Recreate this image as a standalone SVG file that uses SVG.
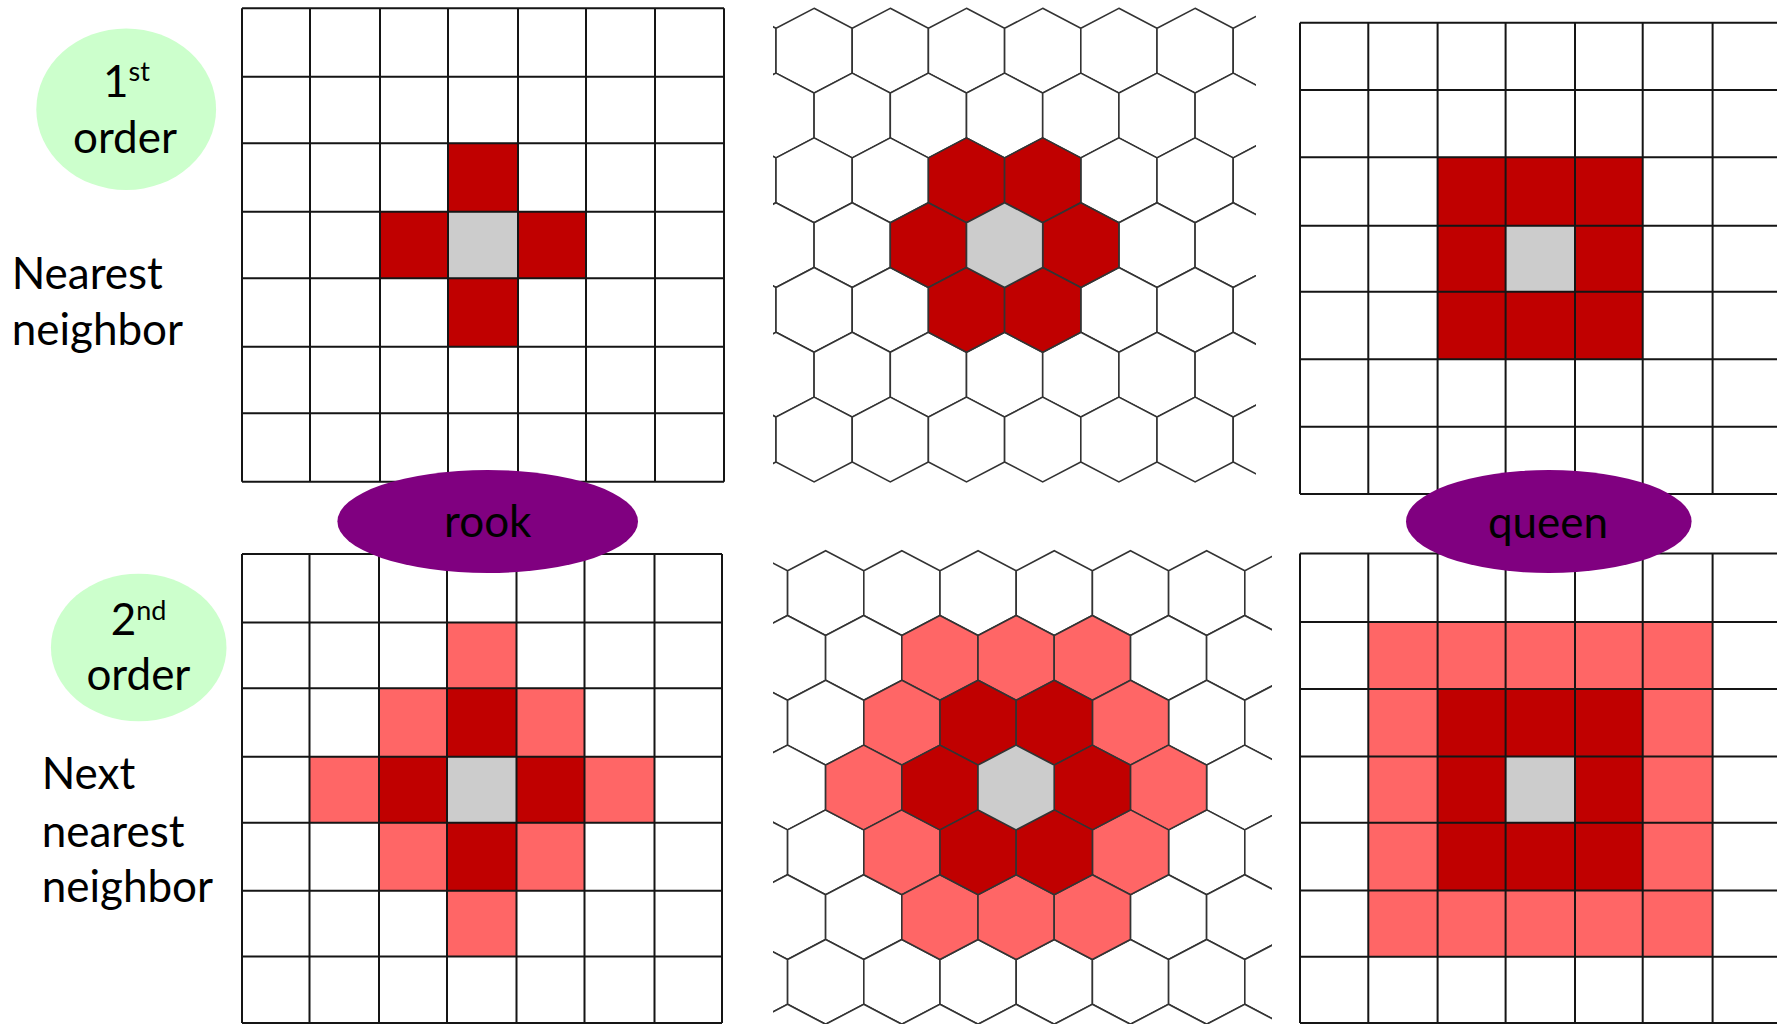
<svg xmlns="http://www.w3.org/2000/svg" xmlns:xlink="http://www.w3.org/1999/xlink" width="1777" height="1024" viewBox="0 0 1777 1024">
<style>
text{font-family:Lato,"Open Sans","Liberation Sans",sans-serif;fill:#000}
.lbl{font-size:44px}
.sup{font-size:27px}
.grid{fill:none;stroke:#151515;stroke-width:2}
.red{fill:#C00000}
.pink{fill:#FF6666}
.gray{fill:#CCCCCC}
.hx use{fill:#fff;stroke:#333;stroke-width:1.6;stroke-linejoin:miter}
.hx use.red{fill:#C00000}
.hx use.pink{fill:#FF6666}
.hx use.gray{fill:#CCCCCC}
.green{fill:#CCFFCC}
.purple{fill:#800080}
</style>
<defs>
<polygon id="h" points="0,-42.4 38.1,-22.4 38.1,22.4 0,42.4 -38.1,22.4 -38.1,-22.4"/>
<clipPath id="clipTop"><rect x="773" y="0" width="483" height="495"/></clipPath>
<clipPath id="clipBot"><rect x="773" y="540" width="499" height="484"/></clipPath>
</defs>
<rect width="1777" height="1024" fill="#fff"/>

<g id="rook-1st">
<rect class="red" x="448" y="143.3" width="70" height="68.4"/>
<rect class="red" x="380" y="211.7" width="68" height="66.6"/>
<rect class="red" x="518" y="211.7" width="68" height="66.6"/>
<rect class="red" x="448" y="278.3" width="70" height="68.4"/>
<rect class="gray" x="448" y="211.7" width="70" height="66.6"/>
<path class="grid" d="M242 8.3V481.7M310 8.3V481.7M380 8.3V481.7M448 8.3V481.7M518 8.3V481.7M586 8.3V481.7M655 8.3V481.7M724 8.3V481.7M242 8.3H724M242 76.7H724M242 143.3H724M242 211.7H724M242 278.3H724M242 346.7H724M242 413.3H724M242 481.7H724"/>
</g>

<g id="rook-2nd">
<rect class="pink" x="447" y="622.4" width="69.5" height="65.9"/>
<rect class="pink" x="379" y="688.3" width="68" height="68.4"/>
<rect class="pink" x="516.5" y="688.3" width="68" height="68.4"/>
<rect class="pink" x="309.5" y="756.7" width="69.5" height="66"/>
<rect class="pink" x="584.5" y="756.7" width="70" height="66"/>
<rect class="pink" x="379" y="822.7" width="68" height="68.1"/>
<rect class="pink" x="516.5" y="822.7" width="68" height="68.1"/>
<rect class="pink" x="447" y="890.8" width="69.5" height="65.7"/>
<rect class="red" x="447" y="688.3" width="69.5" height="68.4"/>
<rect class="red" x="379" y="756.7" width="68" height="66"/>
<rect class="red" x="516.5" y="756.7" width="68" height="66"/>
<rect class="red" x="447" y="822.7" width="69.5" height="68.1"/>
<rect class="gray" x="447" y="756.7" width="69.5" height="66"/>
<path class="grid" d="M242 554V1023M309.5 554V1023M379 554V1023M447 554V1023M516.5 554V1023M584.5 554V1023M654.5 554V1023M722 554V1023M242 554H722M242 622.4H722M242 688.3H722M242 756.7H722M242 822.7H722M242 890.8H722M242 956.5H722M242 1023H722"/>
</g>

<g id="queen-1st">
<rect class="red" x="1437.6" y="157.3" width="205.1" height="202"/>
<rect class="gray" x="1505.6" y="225.7" width="69.4" height="66"/>
<path class="grid" d="M1300 22.7V494M1368.3 22.7V494M1437.6 22.7V494M1505.6 22.7V494M1575 22.7V494M1642.7 22.7V494M1712.6 22.7V494M1300 22.7H1781M1300 90H1781M1300 157.3H1781M1300 225.7H1781M1300 291.7H1781M1300 359.3H1781M1300 426.7H1781M1300 494H1781"/>
</g>

<g id="queen-2nd">
<rect class="pink" x="1368.3" y="622" width="344.3" height="334.7"/>
<rect class="red" x="1437.6" y="689" width="205.1" height="201.6"/>
<rect class="gray" x="1505.6" y="756.5" width="69.4" height="66.2"/>
<path class="grid" d="M1300 553.5V1023M1368.3 553.5V1023M1437.6 553.5V1023M1505.6 553.5V1023M1575 553.5V1023M1642.7 553.5V1023M1712.6 553.5V1023M1300 553.5H1781M1300 622H1781M1300 689H1781M1300 756.5H1781M1300 822.7H1781M1300 890.6H1781M1300 956.7H1781M1300 1023H1781"/>
</g>

<g id="hex-1st" class="hx" clip-path="url(#clipTop)">
<use href="#h" x="737.9" y="50.7"/><use href="#h" x="814.1" y="50.7"/><use href="#h" x="890.3" y="50.7"/><use href="#h" x="966.5" y="50.7"/><use href="#h" x="1042.7" y="50.7"/><use href="#h" x="1118.9" y="50.7"/><use href="#h" x="1195.1" y="50.7"/><use href="#h" x="1271.3" y="50.7"/>
<use href="#h" x="776" y="115.5"/><use href="#h" x="852.2" y="115.5"/><use href="#h" x="928.4" y="115.5"/><use href="#h" x="1004.6" y="115.5"/><use href="#h" x="1080.8" y="115.5"/><use href="#h" x="1157" y="115.5"/><use href="#h" x="1233.2" y="115.5"/>
<use href="#h" x="737.9" y="180.3"/><use href="#h" x="814.1" y="180.3"/><use href="#h" x="890.3" y="180.3"/><use href="#h" x="1118.9" y="180.3"/><use href="#h" x="1195.1" y="180.3"/><use href="#h" x="1271.3" y="180.3"/>
<use href="#h" x="776" y="245.1"/><use href="#h" x="852.2" y="245.1"/><use href="#h" x="1157" y="245.1"/><use href="#h" x="1233.2" y="245.1"/>
<use href="#h" x="737.9" y="309.9"/><use href="#h" x="814.1" y="309.9"/><use href="#h" x="890.3" y="309.9"/><use href="#h" x="1118.9" y="309.9"/><use href="#h" x="1195.1" y="309.9"/><use href="#h" x="1271.3" y="309.9"/>
<use href="#h" x="776" y="374.7"/><use href="#h" x="852.2" y="374.7"/><use href="#h" x="928.4" y="374.7"/><use href="#h" x="1004.6" y="374.7"/><use href="#h" x="1080.8" y="374.7"/><use href="#h" x="1157" y="374.7"/><use href="#h" x="1233.2" y="374.7"/>
<use href="#h" x="737.9" y="439.5"/><use href="#h" x="814.1" y="439.5"/><use href="#h" x="890.3" y="439.5"/><use href="#h" x="966.5" y="439.5"/><use href="#h" x="1042.7" y="439.5"/><use href="#h" x="1118.9" y="439.5"/><use href="#h" x="1195.1" y="439.5"/><use href="#h" x="1271.3" y="439.5"/>
<use class="red" href="#h" x="966.5" y="180.3"/><use class="red" href="#h" x="1042.7" y="180.3"/>
<use class="red" href="#h" x="928.4" y="245.1"/><use class="red" href="#h" x="1080.8" y="245.1"/>
<use class="red" href="#h" x="966.5" y="309.9"/><use class="red" href="#h" x="1042.7" y="309.9"/>
<use class="gray" href="#h" x="1004.6" y="245.1"/>
</g>

<g id="hex-2nd" class="hx" clip-path="url(#clipBot)">
<use href="#h" x="749.5" y="593.1"/><use href="#h" x="825.7" y="593.1"/><use href="#h" x="901.9" y="593.1"/><use href="#h" x="978.1" y="593.1"/><use href="#h" x="1054.3" y="593.1"/><use href="#h" x="1130.5" y="593.1"/><use href="#h" x="1206.7" y="593.1"/><use href="#h" x="1282.9" y="593.1"/>
<use href="#h" x="787.5" y="657.9"/><use href="#h" x="863.7" y="657.9"/><use href="#h" x="1168.5" y="657.9"/><use href="#h" x="1244.7" y="657.9"/>
<use href="#h" x="749.5" y="722.7"/><use href="#h" x="825.7" y="722.7"/><use href="#h" x="1206.7" y="722.7"/><use href="#h" x="1282.9" y="722.7"/>
<use href="#h" x="787.5" y="787.5"/><use href="#h" x="1244.7" y="787.5"/>
<use href="#h" x="749.5" y="852.3"/><use href="#h" x="825.7" y="852.3"/><use href="#h" x="1206.7" y="852.3"/><use href="#h" x="1282.9" y="852.3"/>
<use href="#h" x="787.5" y="917.1"/><use href="#h" x="863.7" y="917.1"/><use href="#h" x="1168.5" y="917.1"/><use href="#h" x="1244.7" y="917.1"/>
<use href="#h" x="749.5" y="981.9"/><use href="#h" x="825.7" y="981.9"/><use href="#h" x="901.9" y="981.9"/><use href="#h" x="978.1" y="981.9"/><use href="#h" x="1054.3" y="981.9"/><use href="#h" x="1130.5" y="981.9"/><use href="#h" x="1206.7" y="981.9"/><use href="#h" x="1282.9" y="981.9"/>
<use href="#h" x="787.5" y="1046.7"/><use href="#h" x="863.7" y="1046.7"/><use href="#h" x="939.9" y="1046.7"/><use href="#h" x="1016.1" y="1046.7"/><use href="#h" x="1092.3" y="1046.7"/><use href="#h" x="1168.5" y="1046.7"/><use href="#h" x="1244.7" y="1046.7"/>
<use class="pink" href="#h" x="939.9" y="657.9"/><use class="pink" href="#h" x="1016.1" y="657.9"/><use class="pink" href="#h" x="1092.3" y="657.9"/>
<use class="pink" href="#h" x="901.9" y="722.7"/><use class="pink" href="#h" x="1130.5" y="722.7"/>
<use class="pink" href="#h" x="863.7" y="787.5"/><use class="pink" href="#h" x="1168.5" y="787.5"/>
<use class="pink" href="#h" x="901.9" y="852.3"/><use class="pink" href="#h" x="1130.5" y="852.3"/>
<use class="pink" href="#h" x="939.9" y="917.1"/><use class="pink" href="#h" x="1016.1" y="917.1"/><use class="pink" href="#h" x="1092.3" y="917.1"/>
<use class="red" href="#h" x="978.1" y="722.7"/><use class="red" href="#h" x="1054.3" y="722.7"/>
<use class="red" href="#h" x="939.9" y="787.5"/><use class="red" href="#h" x="1092.3" y="787.5"/>
<use class="red" href="#h" x="978.1" y="852.3"/><use class="red" href="#h" x="1054.3" y="852.3"/>
<use class="gray" href="#h" x="1016.1" y="787.5"/>
</g>

<g id="order-1st">
<ellipse class="green" cx="126.2" cy="109.2" rx="89.9" ry="80.8"/>
<text class="lbl" x="126.5" y="97" text-anchor="middle">1<tspan class="sup" dy="-16">st</tspan></text>
<text class="lbl" x="125" y="153" text-anchor="middle">order</text>
</g>

<g id="order-2nd">
<ellipse class="green" cx="138.7" cy="647.5" rx="87.8" ry="73.8"/>
<text class="lbl" x="138.5" y="635" text-anchor="middle">2<tspan class="sup" dy="-15">nd</tspan></text>
<text class="lbl" x="138.4" y="690" text-anchor="middle">order</text>
</g>

<g id="label-nearest">
<text class="lbl" x="11.7" y="289">Nearest</text>
<text class="lbl" x="11.7" y="345">neighbor</text>
</g>

<g id="label-next-nearest">
<text class="lbl" x="41.7" y="789">Next</text>
<text class="lbl" x="41.7" y="847">nearest</text>
<text class="lbl" x="41.7" y="902">neighbor</text>
</g>

<g id="rook">
<ellipse class="purple" cx="487.7" cy="521.5" rx="150.3" ry="51.5"/>
<text class="lbl" x="487.8" y="537" text-anchor="middle">rook</text>
</g>

<g id="queen">
<ellipse class="purple" cx="1548.8" cy="521.5" rx="142.8" ry="51.5"/>
<text class="lbl" x="1548" y="538" text-anchor="middle">queen</text>
</g>
</svg>
